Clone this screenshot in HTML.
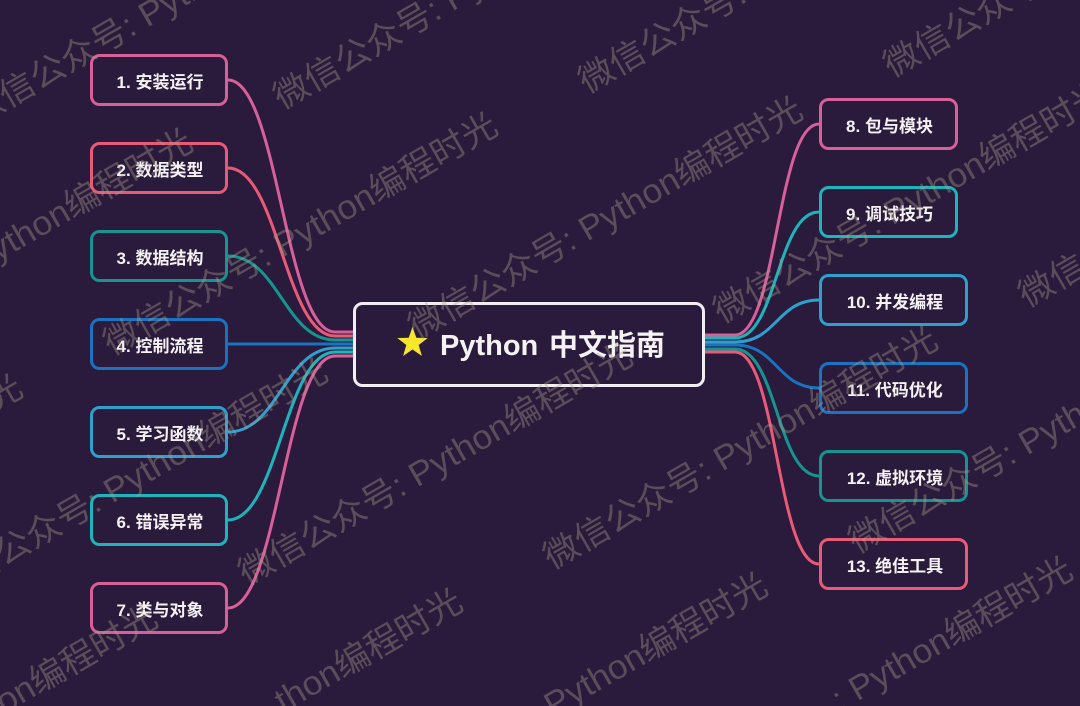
<!DOCTYPE html>
<html>
<head>
<meta charset="utf-8">
<style>
  html,body{margin:0;padding:0;background:#2a1a3c;width:1080px;height:706px;overflow:hidden;}
  svg{display:block;overflow:hidden;}
</style>
</head>
<body>
<svg width="1080" height="706" viewBox="0 0 1080 706" xmlns="http://www.w3.org/2000/svg">
  <rect x="0" y="0" width="1080" height="706" fill="#2a1a3c"/>

  <!-- connectors left -->
  <g fill="none" stroke-width="3" stroke-linecap="round">
    <path d="M228,80 C278,80 285,332 335,332 L353,332" stroke="#d75f9a"/>
    <path d="M228,168 C278,168 285,336 335,336 L353,336" stroke="#e85a78"/>
    <path d="M228,256 C278,256 285,340 335,340 L353,340" stroke="#16948f"/>
    <path d="M228,344 L353,344" stroke="#1a73c0"/>
    <path d="M228,432 C278,432 285,348 335,348 L353,348" stroke="#2ea0cc"/>
    <path d="M228,520 C278,520 285,352 335,352 L353,352" stroke="#1cb5bb"/>
    <path d="M228,608 C278,608 285,356 335,356 L353,356" stroke="#d75f9a"/>
  </g>
  <!-- connectors right -->
  <g fill="none" stroke-width="3" stroke-linecap="round">
    <path d="M705,335 L735,335 C777,335 777,124 819,124" stroke="#d75f9a"/>
    <path d="M705,338 L735,338 C777,338 777,212 819,212" stroke="#1cb5bb"/>
    <path d="M705,342 L735,342 C777,342 777,300 819,300" stroke="#2ea0cc"/>
    <path d="M705,345 L735,345 C777,345 777,388 819,388" stroke="#1a73c0"/>
    <path d="M705,349 L735,349 C777,349 777,476 819,476" stroke="#16948f"/>
    <path d="M705,352 L735,352 C777,352 777,564 819,564" stroke="#e85a78"/>
  </g>

  <!-- left nodes -->
  <g fill="#2a1a3c" stroke-width="3">
    <rect x="91.5" y="55.5" width="135" height="49" rx="8" stroke="#d75f9a"/>
    <rect x="91.5" y="143.5" width="135" height="49" rx="8" stroke="#e85a78"/>
    <rect x="91.5" y="231.5" width="135" height="49" rx="8" stroke="#16948f"/>
    <rect x="91.5" y="319.5" width="135" height="49" rx="8" stroke="#1a73c0"/>
    <rect x="91.5" y="407.5" width="135" height="49" rx="8" stroke="#2ea0cc"/>
    <rect x="91.5" y="495.5" width="135" height="49" rx="8" stroke="#1cb5bb"/>
    <rect x="91.5" y="583.5" width="135" height="49" rx="8" stroke="#d75f9a"/>
  </g>
  <!-- right nodes -->
  <g fill="#2a1a3c" stroke-width="3">
    <rect x="820.5" y="99.5" width="136" height="49" rx="8" stroke="#d75f9a"/>
    <rect x="820.5" y="187.5" width="136" height="49" rx="8" stroke="#1cb5bb"/>
    <rect x="820.5" y="275.5" width="146" height="49" rx="8" stroke="#2ea0cc"/>
    <rect x="820.5" y="363.5" width="146" height="49" rx="8" stroke="#1a73c0"/>
    <rect x="820.5" y="451.5" width="146" height="49" rx="8" stroke="#16948f"/>
    <rect x="820.5" y="539.5" width="146" height="49" rx="8" stroke="#e85a78"/>
  </g>

  <!-- node labels -->
  <g font-family="'Liberation Sans','Noto Sans CJK SC',sans-serif" font-size="17" font-weight="bold" fill="#f4f2f4" text-anchor="middle">
    <text x="160" y="88">1. 安装运行</text>
    <text x="160" y="176">2. 数据类型</text>
    <text x="160" y="264">3. 数据结构</text>
    <text x="160" y="352">4. 控制流程</text>
    <text x="160" y="440">5. 学习函数</text>
    <text x="160" y="528">6. 错误异常</text>
    <text x="160" y="616">7. 类与对象</text>
    <text x="889.5" y="132">8. 包与模块</text>
    <text x="889.5" y="220">9. 调试技巧</text>
    <text x="895" y="308">10. 并发编程</text>
    <text x="895" y="396">11. 代码优化</text>
    <text x="895" y="484">12. 虚拟环境</text>
    <text x="895" y="572">13. 绝佳工具</text>
  </g>

  <!-- center node -->
  <rect x="354.5" y="303.5" width="349" height="82" rx="8" fill="#2a1a3c" stroke="#f2eef2" stroke-width="3"/>
  <polygon fill="#f7e62c" points="412.5,327 416.32,337.74 427.72,338.06 418.68,345.01 421.9,355.94 412.5,349.5 403.1,355.94 406.32,345.01 397.28,338.06 408.68,337.74"/>
  <g font-family="'Liberation Sans','Noto Sans CJK SC',sans-serif" font-size="29" font-weight="bold" fill="#f4f2f4">
    <text x="440" y="355">Python</text>
    <text x="549" y="355">中文指南</text>
  </g>

  <!-- watermarks -->
  <g font-family="'Liberation Sans','Noto Sans CJK SC',sans-serif" font-size="34" fill="rgba(170,160,140,0.38)">
    <text transform="translate(-23,126) rotate(-30)" textLength="448" lengthAdjust="spacingAndGlyphs">微信公众号: Python编程时光</text>
    <text transform="translate(282,110) rotate(-30)" textLength="448" lengthAdjust="spacingAndGlyphs">微信公众号: Python编程时光</text>
    <text transform="translate(587,94) rotate(-30)" textLength="448" lengthAdjust="spacingAndGlyphs">微信公众号: Python编程时光</text>
    <text transform="translate(892,78) rotate(-30)" textLength="448" lengthAdjust="spacingAndGlyphs">微信公众号: Python编程时光</text>

    <text transform="translate(-193,372) rotate(-30)" textLength="448" lengthAdjust="spacingAndGlyphs">微信公众号: Python编程时光</text>
    <text transform="translate(112,356) rotate(-30)" textLength="448" lengthAdjust="spacingAndGlyphs">微信公众号: Python编程时光</text>
    <text transform="translate(417,340) rotate(-30)" textLength="448" lengthAdjust="spacingAndGlyphs">微信公众号: Python编程时光</text>
    <text transform="translate(722,324) rotate(-30)" textLength="448" lengthAdjust="spacingAndGlyphs">微信公众号: Python编程时光</text>
    <text transform="translate(1027,308) rotate(-30)" textLength="448" lengthAdjust="spacingAndGlyphs">微信公众号: Python编程时光</text>

    <text transform="translate(-363,618) rotate(-30)" textLength="448" lengthAdjust="spacingAndGlyphs">微信公众号: Python编程时光</text>
    <text transform="translate(-58,602) rotate(-30)" textLength="448" lengthAdjust="spacingAndGlyphs">微信公众号: Python编程时光</text>
    <text transform="translate(247,586) rotate(-30)" textLength="448" lengthAdjust="spacingAndGlyphs">微信公众号: Python编程时光</text>
    <text transform="translate(552,570) rotate(-30)" textLength="448" lengthAdjust="spacingAndGlyphs">微信公众号: Python编程时光</text>
    <text transform="translate(857,554) rotate(-30)" textLength="448" lengthAdjust="spacingAndGlyphs">微信公众号: Python编程时光</text>

    <text transform="translate(4.1,714) rotate(-30)" textLength="180" lengthAdjust="spacingAndGlyphs">on编程时光</text>
    <text transform="translate(283.1,713) rotate(-30)" textLength="210" lengthAdjust="spacingAndGlyphs">thon编程时光</text>
    <text transform="translate(552.6,717.5) rotate(-30)" textLength="251" lengthAdjust="spacingAndGlyphs">Python编程时光</text>
    <text transform="translate(840.3,711.5) rotate(-30)" textLength="271" lengthAdjust="spacingAndGlyphs">: Python编程时光</text>
  </g>
</svg>
</body>
</html>
